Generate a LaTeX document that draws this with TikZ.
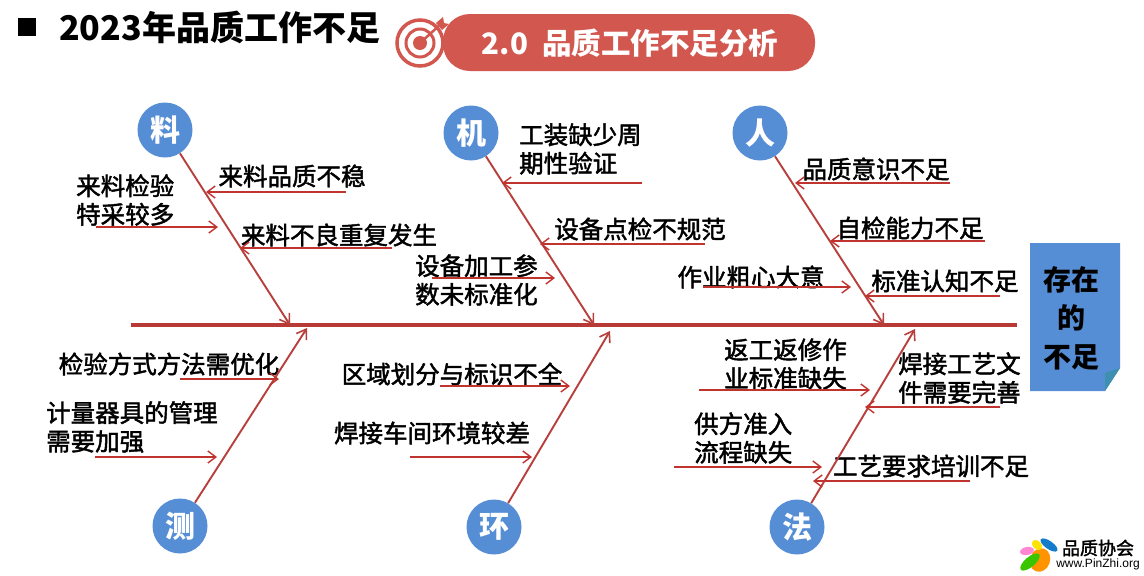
\documentclass[tikz,border=0pt]{standalone}
\usepackage{fontspec}
\usetikzlibrary{arrows.meta}
\setmainfont{Noto Sans CJK SC}
\newfontfamily\cjkm[FakeBold=1.8]{Noto Sans CJK SC}
\newfontfamily\latinw{Liberation Sans}
\definecolor{bonered}{HTML}{B8403C}
\definecolor{spinered}{HTML}{B83A36}
\definecolor{arrred}{HTML}{C0332F}
\definecolor{ballblue}{HTML}{558ED5}
\definecolor{pillred}{HTML}{D2574F}
\definecolor{foldblue}{HTML}{3E8FB0}
\tikzset{
  lbl/.style={font=\cjkm\fontsize{24.5}{28.5}\selectfont,text=black,inner sep=0pt,align=left},
  ball/.style={circle,fill=ballblue,minimum size=55pt,inner sep=0pt,text=white,font=\bfseries\fontsize{30}{30}\selectfont},
  bone/.style={draw=bonered,line width=1.9pt,-{Straight Barb[length=9pt,width=12pt,line width=1.6pt]}},
  twig/.style={draw=arrred,line width=1.5pt,-{Straight Barb[length=8pt,width=12pt,line width=1.4pt]}},
}
\begin{document}
\begin{tikzpicture}[x=1pt,y=-1pt]
\useasboundingbox (0,0) rectangle (1144,576);
\fill[white] (0,0) rectangle (1144,576);
% header
\node[fill=black,minimum size=18pt,inner sep=0pt] (sq) at (27,27) {};
\node[anchor=west,inner sep=0pt,font=\bfseries\fontsize{34}{36}\selectfont] (title) at (59,27) {2023年品质工作不足};
\node[fill=pillred,rounded corners=27pt,minimum width=372pt,minimum height=57pt,inner sep=0pt] (pill) at (629,42.5) {};
\node[text=white,inner sep=0pt,font=\bfseries\fontsize{29.5}{30}\selectfont] (pilltext) at (630,43) {2.0\hspace{14pt}品质工作不足分析};
% target icon
\draw[pillred,line width=3.5pt,fill=white] (420,43) circle (23);
\draw[pillred,line width=3pt] (420,43) circle (14);
\fill[pillred] (420,43) circle (7);
\draw[pillred,line width=2.5pt] (420,43) -- (441,24);
\fill[pillred] (436,23) -- (443,17) -- (444,23) -- (449,24) -- (442,30) -- cycle;
% note
\fill[ballblue] (1030,243) -- (1120,243) -- (1120,368) -- (1105,391) -- (1030,391) -- cycle;
\fill[foldblue] (1120,368) -- (1105,373) -- (1105,391) -- cycle;
\node[inner sep=0pt,align=center,font=\bfseries\fontsize{28}{38.5}\selectfont] (note) at (1071,318) {存在\\的\\不足};
% balls
\node[ball] (liao) at (165,130) {料};
\node[ball] (ji) at (471,133) {机};
\node[ball] (ren) at (760,133) {人};
\node[ball] (ce) at (180,526) {测};
\node[ball] (huan) at (494,527) {环};
\node[ball] (fa) at (797,527) {法};
% labels
\node[lbl] (a1) at (292,176) {来料品质不稳};
\node[lbl,anchor=west] (a2) at (76,200) {来料检验\\特采较多};
\node[lbl] (a3) at (339,235) {来料不良重复发生};
\node[lbl,anchor=west] (b1) at (519,149) {工装缺少周\\期性验证};
\node[lbl] (b2) at (640,229) {设备点检不规范};
\node[lbl,anchor=west] (b3) at (415,280) {设备加工参\\数未标准化};
\node[lbl] (c1) at (876,169) {品质意识不足};
\node[lbl] (c2) at (910,228) {自检能力不足};
\node[lbl] (c3) at (751,277) {作业粗心大意};
\node[lbl] (c4) at (945,281) {标准认知不足};
\node[lbl] (d1) at (169,364) {检验方式方法需优化};
\node[lbl,anchor=west] (d2) at (46,427) {计量器具的管理\\需要加强};
\node[lbl] (e1) at (452,374) {区域划分与标识不全};
\node[lbl] (e2) at (432,433) {焊接车间环境较差};
\node[lbl,anchor=west] (f1) at (724,364) {返工返修作\\业标准缺失};
\node[lbl,anchor=west] (f2) at (694,438) {供方准入\\流程缺失};
\node[lbl,anchor=west] (f3) at (898,378) {焊接工艺文\\件需要完善};
\node[lbl] (f4) at (931,466) {工艺要求培训不足};
% spine
\coordinate (sL) at (131,325);
\coordinate (sR) at (1017,325);
\draw[spinered,line width=3.6pt] (sL) -- (sR);
% bones
\coordinate (liaoE) at (290,325);
\coordinate (jiE) at (594,325);
\coordinate (renE) at (884,325);
\coordinate (ceE) at (307,328);
\coordinate (huanE) at (610,331);
\coordinate (faE) at (915,329);
\draw[bone] (liao) -- (liaoE);
\draw[bone] (ji) -- (jiE);
\draw[bone] (ren) -- (renE);
\draw[bone] (ce) -- (ceE);
\draw[bone] (huan) -- (huanE);
\draw[bone] (fa) -- (faE);
% twigs
\foreach \n/\xa/\ya/\xb/\yb in {
 a1/346/192/206/192, a2/96/227/218/227, a3/392/248/240/248,
 b1/642/183/502/183, b2/705/244/540/244, b3/432/278/555/278,
 c1/950/183/795/183, c2/985/241/830/241, c3/703/287/851/287, c4/1000/296/865/296,
 d1/180/379/279/379, d2/95/457/217/457,
 e1/440/386/570/386, e2/410/457/532/457,
 f1/699/390/870/390, f2/674/467/822/467, f3/1000/407/865/407, f4/970/481/813/481}{
  \coordinate (\n s) at (\xa,\ya);
  \coordinate (\n t) at (\xb,\yb);
  \draw[twig] (\n s) -- (\n t);
}
% logo
\fill[orange!85!yellow,rotate around={-20:(1040,560)}] (1040,560) ellipse (10 and 12);
\fill[green!55!olive,rotate around={-50:(1030,562)}] (1030,562) ellipse (5 and 12);
\fill[pink!70!magenta,rotate around={10:(1027,551)}] (1027,551) ellipse (7 and 4);
\fill[yellow!85!orange,rotate around={-45:(1037,545)}] (1037,545) ellipse (6 and 4);
\fill[cyan!60!blue,rotate around={-35:(1049,545)}] (1049,545) ellipse (10 and 4);
\node[inner sep=0pt,font=\cjkm\fontsize{18}{18}\selectfont] (lg1) at (1098,548) {品质协会};
\node[inner sep=0pt,font=\latinw\fontsize{12}{12}\selectfont] (lg2) at (1098,564) {www.PinZhi.org};
\end{tikzpicture}
\end{document}
